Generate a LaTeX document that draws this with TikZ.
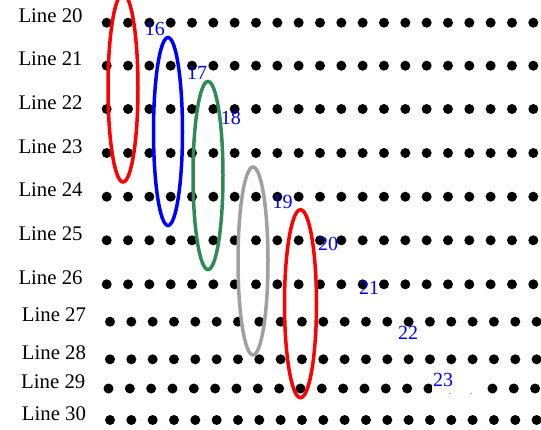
\documentclass[tikz,border=0pt]{standalone}
\usepackage{fontspec}
\setmainfont{Liberation Serif}
\definecolor{ellgreen}{RGB}{46,139,87}
\definecolor{ellgray}{RGB}{160,160,160}
\begin{document}
\begin{tikzpicture}[x=1pt,y=-1pt,
  linelabel/.style={anchor=base west,inner sep=0pt,font=\fontsize{20.8}{24}\selectfont},
  numlabel/.style={anchor=base west,inner sep=0pt,text=blue,font=\fontsize{20}{24}\selectfont},
  loopline/.style={line width=3.5pt}]
\useasboundingbox (0,0) rectangle (541,429);
% rows of dots with their labels
\foreach \n/\y/\lx/\dx in {20/22.7/18.3/106.7, 21/65.7/18.3/106.7, 22/109/18.3/106.7,
  23/153/18.3/106.7, 24/196.7/18.3/106.7, 25/240.3/18.3/106.7, 26/284.3/18.3/106.7,
  27/321.7/21.7/110, 28/359.3/21.7/110, 29/388.5/21/108.5, 30/420/21.7/110} {
  \node[linelabel] (L\n) at (\lx,\y) {Line \n};
  \foreach \k in {0,...,20} \fill ({\dx+\k*21.33},\y) circle (5pt);
}
% loops
\draw[loopline,red] (123,88) ellipse [x radius=15pt, y radius=94pt];
\draw[loopline,blue] (168,131.5) ellipse [x radius=14.5pt, y radius=94pt];
\draw[loopline,ellgreen] (208,175.5) ellipse [x radius=15pt, y radius=94pt];
\draw[loopline,ellgray] (253,261) ellipse [x radius=15pt, y radius=94pt];
\draw[loopline,red] (300.5,303.7) ellipse [x radius=16pt, y radius=94pt];
% white patch behind 23
\fill[white] (432,364.8) rectangle (479,392.5);
% numbers
\node[numlabel] (n16) at (144.7,35.7) {16};
\node[numlabel] (n17) at (187,79) {17};
\node[numlabel] (n18) at (220.7,124) {18};
\node[numlabel] (n19) at (272.5,208) {19};
\node[numlabel] (n20) at (317.8,250) {20};
\node[numlabel] (n21) at (358.8,294) {21};
\node[numlabel] (n22) at (397.8,339.5) {22};
\node[numlabel] (n23) at (432.8,386) {23};
\end{tikzpicture}
\end{document}
